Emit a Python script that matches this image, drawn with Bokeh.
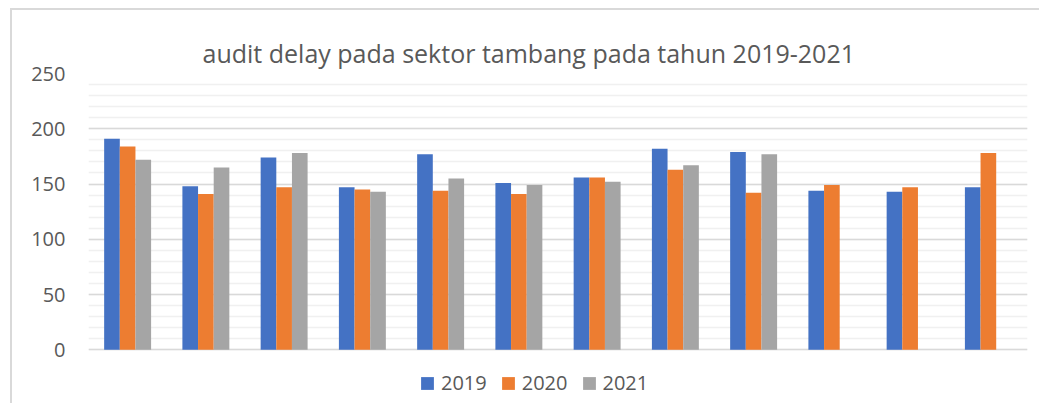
import numpy as np
from bokeh.plotting import figure
from bokeh.models import Legend, LegendItem, FixedTicker, Range1d, ColumnDataSource
from bokeh.transform import dodge
from bokeh.embed import file_html
from bokeh.resources import INLINE

title_text = "audit delay pada sektor tambang pada tahun 2019-2021"
sectors = [1, 2, 3, 4, 5, 6, 7, 8, 9, 10, 11, 12]
series_names = ["2019", "2020", "2021"]
v2019 = [191, 148, 174, 147, 177, 151, 156, 182, 179, 144, 143, 147]
v2020 = [184, 141, 147, 145, 144, 141, 156, 163, 142, 149, 147, 178]
v2021 = [172, 165, 178, 143, 155, 149, 152, 167, 177, np.nan, np.nan, np.nan]
y_ticks = [0, 50, 100, 150, 200, 250]
y_minor = list(range(0, 251, 10))
colors = ["#4472C4", "#ED7D31", "#A5A5A5"]

FONT = "Open Sans"
TXT = "#595959"

src = ColumnDataSource(dict(x=sectors, a=v2019, b=v2020, c=v2021))

p = figure(frame_width=939, frame_height=326, output_backend="svg", toolbar_location=None,
           x_range=Range1d(0.5, 12.5), y_range=Range1d(-45, 250),
           min_border_left=76, min_border_right=12, min_border_top=63, min_border_bottom=4,
           title=title_text)
p.margin = (8, 0, 0, 10)
p.styles = {"border-top": "2px solid #d9d9d9", "border-left": "2px solid #d9d9d9"}

renderers = []
for col, off, color in zip(["a", "b", "c"], [-0.2, 0.0, 0.2], colors):
    r = p.vbar(x=dodge("x", off), top=col, width=0.2, bottom=0, source=src,
               fill_color=color, line_color=None)
    renderers.append(r)

p.title.text_font = FONT
p.title.text_font_size = "25px"
p.title.text_font_style = "normal"
p.title.text_color = TXT
p.title.align = "left"
p.title.offset = 114
p.title.standoff = 8

p.xaxis.visible = False
p.xgrid.visible = False
p.outline_line_color = None

p.yaxis.ticker = FixedTicker(ticks=y_ticks, minor_ticks=y_minor)
p.yaxis.axis_line_color = None
p.yaxis.major_tick_line_color = None
p.yaxis.minor_tick_line_color = None
p.yaxis.major_tick_out = 0
p.yaxis.major_tick_in = 0
p.yaxis.minor_tick_out = 0
p.yaxis.major_label_standoff = 23
p.yaxis.major_label_text_font = FONT
p.yaxis.major_label_text_font_size = "20px"
p.yaxis.major_label_text_color = TXT

p.ygrid.grid_line_color = "#d9d9d9"
p.ygrid.grid_line_width = 1.5
p.ygrid.minor_grid_line_color = "#f0f0f0"
p.ygrid.minor_grid_line_width = 1.5

legend = Legend(items=[LegendItem(label=n, renderers=[r]) for n, r in zip(series_names, renderers)],
                orientation="horizontal", location=(331, 3))
legend.label_text_font = FONT
legend.label_text_font_size = "20px"
legend.label_text_color = TXT
legend.glyph_width = 16
legend.glyph_height = 16
legend.spacing = 13
legend.label_standoff = 6
legend.border_line_color = None
legend.background_fill_alpha = 0
legend.margin = 0
legend.padding = 0
p.add_layout(legend, "center")

open("out.html", "w").write(file_html(p, INLINE))
